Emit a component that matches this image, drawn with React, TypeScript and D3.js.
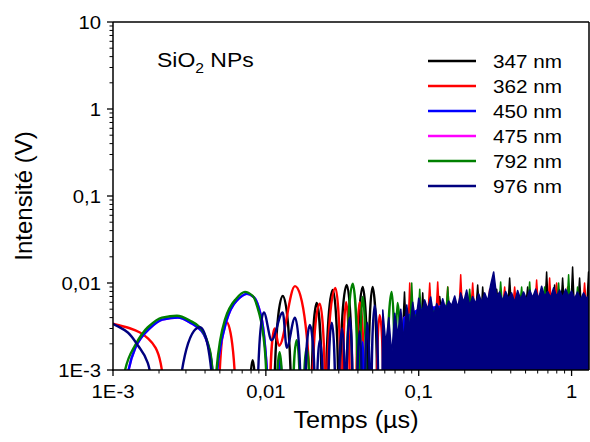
import React from 'react';
import * as d3 from 'd3';

const WIDTH = 590;
const HEIGHT = 442;
const PLOT = { left: 113, right: 589, top: 22, bottom: 370 };
const X_DOMAIN: [number, number] = [0.001, 1.3];
const Y_DOMAIN: [number, number] = [0.001, 10];
const TROUGH = 0.0002;

const xMajorTicks = [0.001, 0.01, 0.1, 1];
const xTickLabels = ['1E-3', '0,01', '0,1', '1'];
const yMajorTicks = [0.001, 0.01, 0.1, 1, 10];
const yTickLabels = ['1E-3', '0,01', '0,1', '1', '10'];

const seriesNames = ['347 nm', '362 nm', '450 nm', '475 nm', '792 nm', '976 nm'];
const seriesColors = ['#000000', '#ff0000', '#0000ff', '#ff00ff', '#008000', '#00007f'];

// [time (µs), intensity (V)] — resolved oscillation lobes
const black347Lobes: [number, number][] = [
  [0.0078, 0.0002], [0.0082, 0.0013], [0.0086, 0.0002],
  [0.0113, 0.0002], [0.0129, 0.0071], [0.0147, 0.0002],
  [0.0199, 0.0002], [0.0215, 0.0059], [0.0233, 0.0002],
  [0.0246, 0.0002], [0.0274, 0.0083], [0.0299, 0.0002],
  [0.0304, 0.0002], [0.0338, 0.0095], [0.0370, 0.0002],
  [0.0393, 0.0002], [0.0430, 0.0090], [0.0463, 0.0002],
  [0.0466, 0.0002], [0.0499, 0.0090], [0.0537, 0.0002],
];
// unresolved fast oscillation: upper envelope
const black347Band: [number, number][] = [
  [0.0770, 0.0002], [0.0789, 0.0035], [0.0807, 0.0079], [0.0825, 0.0035], [0.1038, 0.0035],
  [0.1062, 0.0077], [0.1086, 0.0040], [0.1341, 0.0045], [0.1372, 0.0070], [0.1403, 0.0050],
  [0.2376, 0.0055], [0.2430, 0.0095], [0.2485, 0.0055], [0.2580, 0.0055], [0.2620, 0.0090],
  [0.2680, 0.0055], [0.3163, 0.0060], [0.3235, 0.0085], [0.3308, 0.0060], [0.3845, 0.0060],
  [0.3933, 0.0114], [0.4021, 0.0060], [0.5043, 0.0060], [0.5158, 0.0090], [0.5275, 0.0060],
  [0.6713, 0.0060], [0.6866, 0.0134], [0.7021, 0.0060], [0.7571, 0.0060], [0.7744, 0.0095],
  [0.7919, 0.0060], [0.8541, 0.0060], [0.8736, 0.0114], [0.8934, 0.0060], [0.9928, 0.0060],
  [1.0154, 0.0153], [1.0384, 0.0060], [1.1020, 0.0060], [1.1280, 0.0114], [1.1530, 0.0060],
  [1.2620, 0.0060], [1.2910, 0.0134], [1.3110, 0.0060],
];

const red362Lobes: [number, number][] = [
  [0.0010, 0.0034], [0.0013, 0.0030], [0.0015, 0.0027], [0.0017, 0.0023], [0.0019, 0.0018],
  [0.00205, 0.0012], [0.0022, 0.0002],
  [0.0049, 0.0002], [0.0055, 0.0036], [0.0064, 0.0002],
  [0.0106, 0.0002], [0.0114, 0.0030], [0.0122, 0.0019], [0.0155, 0.0092], [0.0196, 0.0002],
  [0.0200, 0.0002], [0.0225, 0.0058], [0.0245, 0.0002],
  [0.0249, 0.0002], [0.0285, 0.0088], [0.0310, 0.0002],
  [0.0318, 0.0002], [0.0335, 0.0060], [0.0355, 0.0002],
  [0.0390, 0.0002], [0.0411, 0.0060], [0.0440, 0.0002],
  [0.0530, 0.0002], [0.0555, 0.0043], [0.0590, 0.0002],
];
const red362Band: [number, number][] = [
  [0.0830, 0.0002], [0.0854, 0.0035], [0.0873, 0.0100], [0.0893, 0.0035], [0.1154, 0.0050],
  [0.1180, 0.0100], [0.1207, 0.0050], [0.1302, 0.0050], [0.1331, 0.0103], [0.1361, 0.0050],
  [0.1513, 0.0050], [0.1548, 0.0090], [0.1582, 0.0050], [0.1840, 0.0055], [0.1882, 0.0124],
  [0.1925, 0.0055], [0.2204, 0.0055], [0.2254, 0.0100], [0.2305, 0.0055], [0.2847, 0.0060],
  [0.2911, 0.0085], [0.2977, 0.0060], [0.3568, 0.0060], [0.3649, 0.0090], [0.3731, 0.0060],
  [0.4147, 0.0060], [0.4241, 0.0090], [0.4337, 0.0060], [0.5775, 0.0060], [0.5906, 0.0108],
  [0.6039, 0.0060], [0.7024, 0.0060], [0.7184, 0.0114], [0.7346, 0.0060], [0.7804, 0.0060],
  [0.7981, 0.0100], [0.8161, 0.0060], [0.9210, 0.0060], [0.9419, 0.0090], [0.9632, 0.0060],
  [1.1890, 0.0060], [1.2160, 0.0100], [1.2440, 0.0060], [1.3110, 0.0060],
];

const blue450Lobes: [number, number][] = [
  [0.00118, 0.0002], [0.0014, 0.0018], [0.0017, 0.0029], [0.0021, 0.0038], [0.00266, 0.0040],
  [0.0033, 0.0034], [0.0038, 0.0028], [0.0043, 0.0016], [0.0046, 0.0002],
  [0.00465, 0.0002], [0.0055, 0.0036], [0.0064, 0.0062], [0.0075, 0.0075], [0.0084, 0.0068],
  [0.0093, 0.0042], [0.0099, 0.0018], [0.0104, 0.0002],
  [0.0120, 0.0002], [0.0124, 0.0014], [0.0128, 0.0002],
  [0.0420, 0.0002], [0.0430, 0.0021], [0.0440, 0.0002],
];
const blue450Band: [number, number][] = [
  [0.0700, 0.0002], [0.0800, 0.0040], [0.1000, 0.0050], [0.1500, 0.0055], [0.3000, 0.0060],
  [0.6000, 0.0060], [1.3100, 0.0060],
];

const magenta475Lobes: [number, number][] = blue450Lobes.map((d) => [d[0], d[1]]);
const magenta475Band: [number, number][] = blue450Band.map((d) => [d[0], d[1]]);

const green792Lobes: [number, number][] = [
  [0.00115, 0.0002], [0.0012, 0.0010], [0.00139, 0.0019], [0.00169, 0.0031], [0.00209, 0.0040],
  [0.00262, 0.0042], [0.00328, 0.0036], [0.0037, 0.0031], [0.0043, 0.0017], [0.00457, 0.0002],
  [0.0046, 0.0002], [0.0054, 0.0038], [0.0063, 0.0064], [0.0073, 0.0079], [0.0082, 0.0071],
  [0.0091, 0.0043], [0.0098, 0.0019], [0.0102, 0.0002],
  [0.0117, 0.0002], [0.0123, 0.0016], [0.0129, 0.0002],
  [0.0150, 0.0002], [0.0159, 0.0022], [0.0168, 0.0002],
  [0.0176, 0.0002], [0.0185, 0.0018], [0.0194, 0.0002],
  [0.0335, 0.0002], [0.0370, 0.0098], [0.0400, 0.0002],
  [0.0411, 0.0002], [0.0430, 0.0069], [0.0455, 0.0002],
  [0.0620, 0.0002], [0.0665, 0.0079], [0.0700, 0.0002],
  [0.0702, 0.0002], [0.0727, 0.0059], [0.0770, 0.0002],
];
const green792Band: [number, number][] = [
  [0.0850, 0.0002], [0.0880, 0.0040], [0.0900, 0.0100], [0.0921, 0.0040], [0.0993, 0.0045],
  [0.1015, 0.0085], [0.1038, 0.0045], [0.1513, 0.0050], [0.1548, 0.0090], [0.1582, 0.0050],
  [0.2106, 0.0055], [0.2154, 0.0085], [0.2203, 0.0055], [0.3359, 0.0060], [0.3435, 0.0103],
  [0.3513, 0.0060], [0.4607, 0.0060], [0.4712, 0.0090], [0.4818, 0.0060], [0.5198, 0.0060],
  [0.5316, 0.0103], [0.5436, 0.0060], [0.6514, 0.0060], [0.6662, 0.0090], [0.6813, 0.0060],
  [0.8043, 0.0060], [0.8226, 0.0100], [0.8412, 0.0060], [0.9349, 0.0060], [0.9561, 0.0124],
  [0.9778, 0.0060], [1.0700, 0.0060], [1.0940, 0.0090], [1.1190, 0.0060], [1.3110, 0.0060],
];

const navy976Lobes: [number, number][] = [
  [0.0010, 0.0034], [0.00125, 0.0027], [0.00146, 0.0019], [0.00169, 0.0012], [0.00185, 0.0002],
  [0.00266, 0.0002], [0.0037, 0.0031], [0.00457, 0.0002],
  [0.0088, 0.0002], [0.0097, 0.0046], [0.0109, 0.0022], [0.0129, 0.0046], [0.0137, 0.0018],
  [0.0155, 0.0040], [0.0170, 0.0002],
  [0.0180, 0.0002], [0.0194, 0.0033], [0.0210, 0.0002],
  [0.0215, 0.0002], [0.0225, 0.0022], [0.0238, 0.0002],
  [0.0255, 0.0002], [0.0270, 0.0035], [0.0285, 0.0002],
  [0.0300, 0.0002], [0.0315, 0.0030], [0.0330, 0.0002],
  [0.0335, 0.0002], [0.0354, 0.0040], [0.0370, 0.0002],
  [0.0395, 0.0002], [0.0411, 0.0028], [0.0425, 0.0002],
  [0.0445, 0.0002], [0.0460, 0.0035], [0.0480, 0.0002],
  [0.0490, 0.0002], [0.0515, 0.0055], [0.0545, 0.0002],
];
const navy976Band: [number, number][] = [
  [0.0570, 0.0002], [0.0582, 0.0049], [0.0609, 0.0020], [0.0637, 0.0040], [0.0666, 0.0015],
  [0.0697, 0.0045], [0.0729, 0.0025], [0.0763, 0.0050], [0.0798, 0.0022], [0.0835, 0.0056],
  [0.0873, 0.0030], [0.0914, 0.0060], [0.0956, 0.0035], [0.1000, 0.0067], [0.1046, 0.0045],
  [0.1094, 0.0064], [0.1145, 0.0050], [0.1198, 0.0069], [0.1253, 0.0042], [0.1311, 0.0058],
  [0.1372, 0.0048], [0.1435, 0.0066], [0.1501, 0.0050], [0.1571, 0.0062], [0.1643, 0.0055],
  [0.1719, 0.0071], [0.1798, 0.0052], [0.1882, 0.0077], [0.1969, 0.0060], [0.2059, 0.0083],
  [0.2154, 0.0055], [0.2254, 0.0070], [0.2358, 0.0058], [0.2467, 0.0075], [0.2581, 0.0060],
  [0.2700, 0.0077], [0.2825, 0.0062], [0.2955, 0.0095], [0.3092, 0.0134], [0.3235, 0.0070],
  [0.3384, 0.0079], [0.3540, 0.0062], [0.3704, 0.0080], [0.3875, 0.0066], [0.4054, 0.0077],
  [0.4241, 0.0060], [0.4437, 0.0082], [0.4642, 0.0065], [0.4857, 0.0079], [0.5081, 0.0064],
  [0.5316, 0.0083], [0.5561, 0.0068], [0.5818, 0.0085], [0.6087, 0.0066], [0.6368, 0.0092],
  [0.6662, 0.0070], [0.6970, 0.0080], [0.7292, 0.0068], [0.7629, 0.0088], [0.7981, 0.0070],
  [0.8350, 0.0083], [0.8736, 0.0068], [0.9139, 0.0085], [0.9561, 0.0070], [1.0000, 0.0081],
  [1.0460, 0.0066], [1.0940, 0.0079], [1.1450, 0.0064], [1.1980, 0.0077], [1.2530, 0.0066],
  [1.3110, 0.0073],
];

const seriesLobes = [black347Lobes, red362Lobes, blue450Lobes, magenta475Lobes, green792Lobes, navy976Lobes];
const seriesBands = [black347Band, red362Band, blue450Band, magenta475Band, green792Band, navy976Band];
// draw order: black, red, magenta, blue, green, navy (navy on top)
const drawOrder = [0, 1, 3, 2, 4, 5];

function makeArchCurve(bottomPx: number) {
  return (context: any) => {
    let xs: number[] = [];
    let ys: number[] = [];
    return {
      areaStart() {},
      areaEnd() {},
      lineStart() { xs = []; ys = []; },
      point(x: number, y: number) { xs.push(+x); ys.push(+y); },
      lineEnd() {
        const n = xs.length;
        if (!n) return;
        const isTrough = (i: number) => ys[i] > bottomPx + 10;
        const d: number[] = [];
        for (let i = 0; i < n - 1; i++) {
          const dx = xs[i + 1] - xs[i];
          d.push(dx > 0 ? (ys[i + 1] - ys[i]) / dx : 0);
        }
        const m: number[] = [];
        for (let i = 0; i < n; i++) {
          if (i === 0) m.push(n > 1 ? d[0] : 0);
          else if (i === n - 1) m.push(d[n - 2]);
          else {
            const a = d[i - 1], b = d[i];
            m.push(a * b <= 0 ? 0 : (2 * a * b) / (a + b));
          }
        }
        context.moveTo(xs[0], ys[0]);
        for (let i = 0; i < n - 1; i++) {
          const x0 = xs[i], y0 = ys[i], x1 = xs[i + 1], y1 = ys[i + 1];
          const dx = x1 - x0;
          const t0 = isTrough(i), t1 = isTrough(i + 1);
          if (t0 && t1) { context.lineTo(x1, y1); continue; }
          let c1x: number, c1y: number, c2x: number, c2y: number;
          if (t0) { c1x = x0; c1y = y0 + (y1 - y0) * 0.6; }
          else { const k = t1 ? 0.5 : 1 / 3; c1x = x0 + dx * k; c1y = y0 + m[i] * dx * k; }
          if (t1) { c2x = x1; c2y = y1 + (y0 - y1) * 0.6; }
          else { const k = t0 ? 0.5 : 1 / 3; c2x = x1 - dx * k; c2y = y1 - m[i + 1] * dx * k; }
          context.bezierCurveTo(c1x, c1y, c2x, c2y, x1, y1);
        }
      },
    };
  };
}

const FONT = "'Liberation Sans', Arial, sans-serif";

// text stretched horizontally (the reference is slightly wider than tall)
function SText(props: { x: number; y: number; sx: number; size: number; anchor?: string; children: any }) {
  const { x, y, sx, size, anchor, children } = props;
  return (
    <text transform={`translate(${x},${y}) scale(${sx},1)`} textAnchor={anchor || 'start'}
      fontFamily={FONT} fontSize={size} fill="#000">{children}</text>
  );
}

export default function App() {
  const x = d3.scaleLog().domain(X_DOMAIN).range([PLOT.left, PLOT.right]);
  const y = d3.scaleLog().domain(Y_DOMAIN).range([PLOT.bottom, PLOT.top]);

  const lobeLine = d3.line<[number, number]>()
    .x((d) => x(d[0]))
    .y((d) => y(d[1]))
    .curve(makeArchCurve(PLOT.bottom) as any);

  const bandArea = d3.area<[number, number]>()
    .x((d) => x(d[0]))
    .y0(() => y(TROUGH))
    .y1((d) => y(d[1]))
    .curve(d3.curveLinear);
  const bandLine = d3.line<[number, number]>()
    .x((d) => x(d[0]))
    .y((d) => y(d[1]))
    .curve(d3.curveLinear);

  const xMinor = x.ticks(40).filter((t) => !xMajorTicks.some((m) => Math.abs(m - t) / m < 1e-6) && t <= X_DOMAIN[1]);
  const yMinor = y.ticks(40).filter((t) => !yMajorTicks.some((m) => Math.abs(m - t) / m < 1e-6));

  const legendY0 = 61;
  const legendStep = 25;

  return (
    <svg width={WIDTH} height={HEIGHT} style={{ position: 'absolute', left: 0, top: 0, background: '#fff' }}
      xmlns="http://www.w3.org/2000/svg">
      <defs>
        <clipPath id="plotClip">
          <rect x={PLOT.left} y={PLOT.top} width={PLOT.right - PLOT.left} height={PLOT.bottom - PLOT.top} />
        </clipPath>
      </defs>
      <rect x={0} y={0} width={WIDTH} height={HEIGHT} fill="#ffffff" />

      <g clipPath="url(#plotClip)">
        {drawOrder.map((si) => (
          <g key={si}>
            <path d={lobeLine(seriesLobes[si]) || ''} fill="none" stroke={seriesColors[si]} strokeWidth={2.4}
              strokeLinejoin="round" />
            <path d={bandArea(seriesBands[si]) || ''} fill={seriesColors[si]} stroke="none" />
            <path d={bandLine(seriesBands[si]) || ''} fill="none" stroke={seriesColors[si]} strokeWidth={1.5}
              strokeLinejoin="round" />
          </g>
        ))}
      </g>

      {/* frame */}
      <line x1={PLOT.left} x2={PLOT.right} y1={PLOT.top} y2={PLOT.top} stroke="#000" strokeWidth={1.5} />
      <line x1={PLOT.right} x2={PLOT.right} y1={PLOT.top} y2={PLOT.bottom} stroke="#000" strokeWidth={1.5} />
      <line x1={PLOT.left} x2={PLOT.left} y1={PLOT.top} y2={PLOT.bottom + 0.75} stroke="#000" strokeWidth={1.5} />
      <line x1={PLOT.left - 0.75} x2={PLOT.right} y1={PLOT.bottom} y2={PLOT.bottom} stroke="#000" strokeWidth={1.5} />

      {/* y ticks */}
      {yMajorTicks.map((t, i) => (
        <g key={'ym' + i}>
          <line x1={PLOT.left - 6} x2={PLOT.left} y1={y(t)} y2={y(t)} stroke="#000" strokeWidth={1.3} />
          <SText x={PLOT.left - 12} y={y(t) + 6.8} sx={1.08} size={18.8} anchor="end">{yTickLabels[i]}</SText>
        </g>
      ))}
      {yMinor.map((t, i) => (
        <line key={'yn' + i} x1={PLOT.left - 3.5} x2={PLOT.left} y1={y(t)} y2={y(t)} stroke="#000" strokeWidth={1} />
      ))}

      {/* x ticks */}
      {xMajorTicks.map((t, i) => (
        <g key={'xm' + i}>
          <line x1={x(t)} x2={x(t)} y1={PLOT.bottom} y2={PLOT.bottom + 6} stroke="#000" strokeWidth={1.3} />
          <SText x={x(t)} y={398} sx={1.08} size={18.8} anchor="middle">{xTickLabels[i]}</SText>
        </g>
      ))}
      {xMinor.map((t, i) => (
        <line key={'xn' + i} x1={x(t)} x2={x(t)} y1={PLOT.bottom} y2={PLOT.bottom + 3.5} stroke="#000" strokeWidth={1} />
      ))}

      {/* axis titles */}
      <SText x={356} y={428} sx={1.05} size={24} anchor="middle">Temps (µs)</SText>
      <text transform={`translate(32, ${(PLOT.top + PLOT.bottom) / 2}) rotate(-90)`} textAnchor="middle"
        fontFamily={FONT} fontSize={24} fill="#000">Intensité (V)</text>

      {/* annotation */}
      <SText x={157} y={67} sx={1.12} size={20.5}>
        SiO<tspan fontSize={14} dy={6}>2</tspan><tspan dy={-6}> NPs</tspan>
      </SText>

      {/* legend */}
      {seriesNames.map((name, i) => (
        <g key={'lg' + i}>
          <line x1={428} x2={476} y1={legendY0 + i * legendStep} y2={legendY0 + i * legendStep}
            stroke={seriesColors[i]} strokeWidth={2.4} />
          <SText x={493} y={legendY0 + i * legendStep + 6.5} sx={1.15} size={18}>{name}</SText>
        </g>
      ))}
    </svg>
  );
}
